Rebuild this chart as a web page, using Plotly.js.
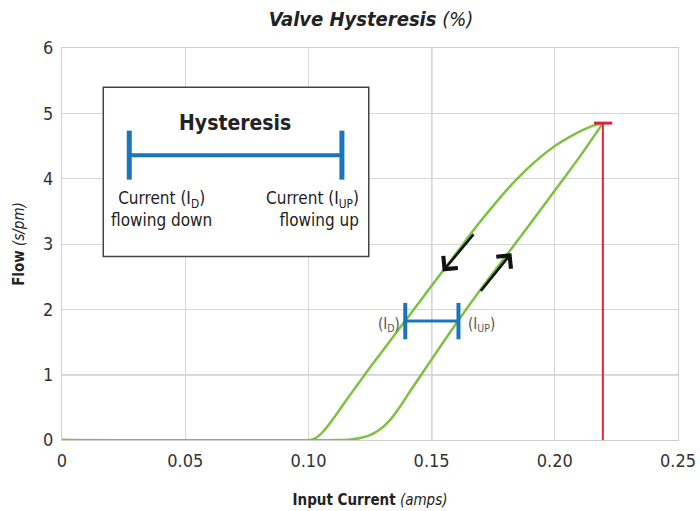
<!DOCTYPE html>
<html>
<head>
<meta charset="utf-8">
<script src="https://cdn.plot.ly/plotly-3.0.1.min.js"></script>
<style>html,body{margin:0;padding:0;background:#fff;}#chart{width:700px;height:511px;}</style>
</head>
<body>
<div id="chart"></div>
<script>
// Current flowing up (lower branch)
const upX = [0, 0.112, 0.117, 0.121, 0.125, 0.129, 0.133, 0.137, 0.141, 0.146, 0.153, 0.1607, 0.170, 0.180, 0.190, 0.200, 0.210, 0.2195];
const upY = [0, 0, 0.008, 0.03, 0.075, 0.16, 0.30, 0.50, 0.73, 1.01, 1.40, 1.82, 2.31, 2.81, 3.31, 3.82, 4.33, 4.85];
// Current flowing down (upper branch)
const downX = [0.2195, 0.2140, 0.2070, 0.2000, 0.1920, 0.1840, 0.1760, 0.1680, 0.1600, 0.1500, 0.1400, 0.1300, 0.1250, 0.1200, 0.1150, 0.1100, 0.1060, 0.1030, 0.1006, 0];
const downY = [4.85, 4.79, 4.66, 4.50, 4.26, 3.97, 3.63, 3.26, 2.86, 2.36, 1.86, 1.36, 1.11, 0.85, 0.59, 0.32, 0.13, 0.03, 0, 0];
// Peak marker (red T)
const peakX = [0.2195, 0.2195];
const peakY = [0, 4.85];
const capX = [0.2159, 0.2233];
const capY = [4.85, 4.85];
// Hysteresis span at a given flow
const spanX = [0.1393, 0.1609];
const spanY = [1.82, 1.82];
// Legend sample span
const legX = [0.0273, 0.1136];
const legY = [4.36, 4.36];
// Direction arrows [tailX, tailY, headX, headY]
const arrowDown = [0.1675, 3.17, 0.1545, 2.58];
const arrowUp = [0.1695, 2.26, 0.1824, 2.86];
// Ticks
const xTicks = [0, 0.05, 0.10, 0.15, 0.20, 0.25];
const xTickText = ['0', '0.05', '0.10', '0.15', '0.20', '0.25'];
const yTicks = [0, 1, 2, 3, 4, 5, 6];
const yTickText = ['0', '1', '2', '3', '4', '5', '6'];

const FONT = '"Liberation Sans Narrow", "DejaVu Sans Condensed", "Open Sans", sans-serif';
const GREEN = '#7cc242';
const BLUE = '#1b75bb';
const RED = '#e5203a';

const traces = [
  {x: upX, y: upY, mode: 'lines', line: {color: GREEN, width: 2.5, shape: 'spline', smoothing: 1}, hoverinfo: 'skip'},
  {x: downX, y: downY, mode: 'lines', line: {color: GREEN, width: 2.5, shape: 'spline', smoothing: 1}, hoverinfo: 'skip'},
  {x: peakX, y: peakY, mode: 'lines', line: {color: RED, width: 2}, hoverinfo: 'skip'},
  {x: capX, y: capY, mode: 'lines', line: {color: RED, width: 3}, hoverinfo: 'skip'},
  {x: spanX, y: spanY, mode: 'lines+markers', line: {color: BLUE, width: 3},
   marker: {symbol: 'line-ns', size: 26, line: {color: BLUE, width: 4}}, hoverinfo: 'skip'},
  {x: legX, y: legY, mode: 'lines+markers', line: {color: BLUE, width: 4},
   marker: {symbol: 'line-ns', size: 35, line: {color: BLUE, width: 5}}, hoverinfo: 'skip'}
];

const layout = {
  width: 700, height: 511,
  margin: {l: 62, r: 22, t: 48, b: 71},
  paper_bgcolor: '#fff', plot_bgcolor: '#fff',
  showlegend: false,
  font: {family: FONT, color: '#333', size: 18},
  title: {text: '<b><i>Valve Hysteresis</i></b> <i>(%)</i>', x: 0.53, xanchor: 'center', y: 0.962, yanchor: 'middle',
          font: {family: FONT, size: 20, color: '#222'}},
  xaxis: {range: [0, 0.25], tickvals: xTicks, ticktext: xTickText, showgrid: true, gridcolor: '#d6d6d6', gridwidth: 1,
          zeroline: false, showline: true, linecolor: '#cfcfcf', mirror: true, ticks: '', ticklabelstandoff: 4,
          tickfont: {size: 18, color: '#333'},
          title: {text: '<b>Input Current</b> <i>(amps)</i>', standoff: 24, font: {size: 15, color: '#222'}}, fixedrange: true},
  yaxis: {range: [0, 6], tickvals: yTicks, ticktext: yTickText, showgrid: true, gridcolor: '#d6d6d6', gridwidth: 1,
          zeroline: false, showline: true, linecolor: '#cfcfcf', mirror: true, ticks: '', ticklabelstandoff: 4,
          tickfont: {size: 18, color: '#333'},
          title: {text: '<b>Flow</b> <i>(s/pm)</i>', standoff: 14, font: {size: 15, color: '#222'}}, fixedrange: true},
  shapes: [
    {type: 'line', xref: 'x', yref: 'paper', x0: 0.15, x1: 0.15, y0: 0, y1: 1, layer: 'between', line: {color: '#7a7a7a', width: 1.2}},
    {type: 'line', xref: 'paper', yref: 'y', x0: 0, x1: 1, y0: 1, y1: 1, layer: 'between', line: {color: '#7a7a7a', width: 1.2}},
    {type: 'rect', xref: 'x', yref: 'y', x0: 0.01675, x1: 0.1245, y0: 2.81, y1: 5.40, layer: 'between',
     fillcolor: '#fff', line: {color: '#444', width: 1.5}}
  ],
  annotations: [
    {x: 0.0702, y: 4.85, xref: 'x', yref: 'y', text: '<b>Hysteresis</b>', showarrow: false,
     font: {family: FONT, size: 21, color: '#222'}},
    {x: 0.0404, y: 3.54, xref: 'x', yref: 'y', text: 'Current (I<sub>D</sub>)<br>flowing down', showarrow: false,
     align: 'center', font: {family: FONT, size: 17, color: '#222'}},
    {x: 0.1215, y: 3.54, xref: 'x', yref: 'y', xanchor: 'right', text: 'Current (I<sub>UP</sub>)<br>flowing up', showarrow: false,
     align: 'right', font: {family: FONT, size: 17, color: '#222'}},
    {x: 0.1379, y: 1.77, xref: 'x', yref: 'y', xanchor: 'right', text: '(I<sub>D</sub>)', showarrow: false,
     font: {family: FONT, size: 15, color: '#555'}},
    {x: 0.1640, y: 1.77, xref: 'x', yref: 'y', xanchor: 'left', text: '(I<sub>UP</sub>)', showarrow: false,
     font: {family: FONT, size: 15, color: '#555'}},
    {x: arrowDown[2], y: arrowDown[3], ax: arrowDown[0], ay: arrowDown[1], xref: 'x', yref: 'y', axref: 'x', ayref: 'y',
     text: '', showarrow: true, arrowhead: 4, arrowsize: 1.4, arrowwidth: 2.6, arrowcolor: '#111'},
    {x: arrowUp[2], y: arrowUp[3], ax: arrowUp[0], ay: arrowUp[1], xref: 'x', yref: 'y', axref: 'x', ayref: 'y',
     text: '', showarrow: true, arrowhead: 4, arrowsize: 1.4, arrowwidth: 2.6, arrowcolor: '#111'}
  ]
};

Plotly.newPlot('chart', traces, layout, {displayModeBar: false, staticPlot: true});
</script>
</body>
</html>
